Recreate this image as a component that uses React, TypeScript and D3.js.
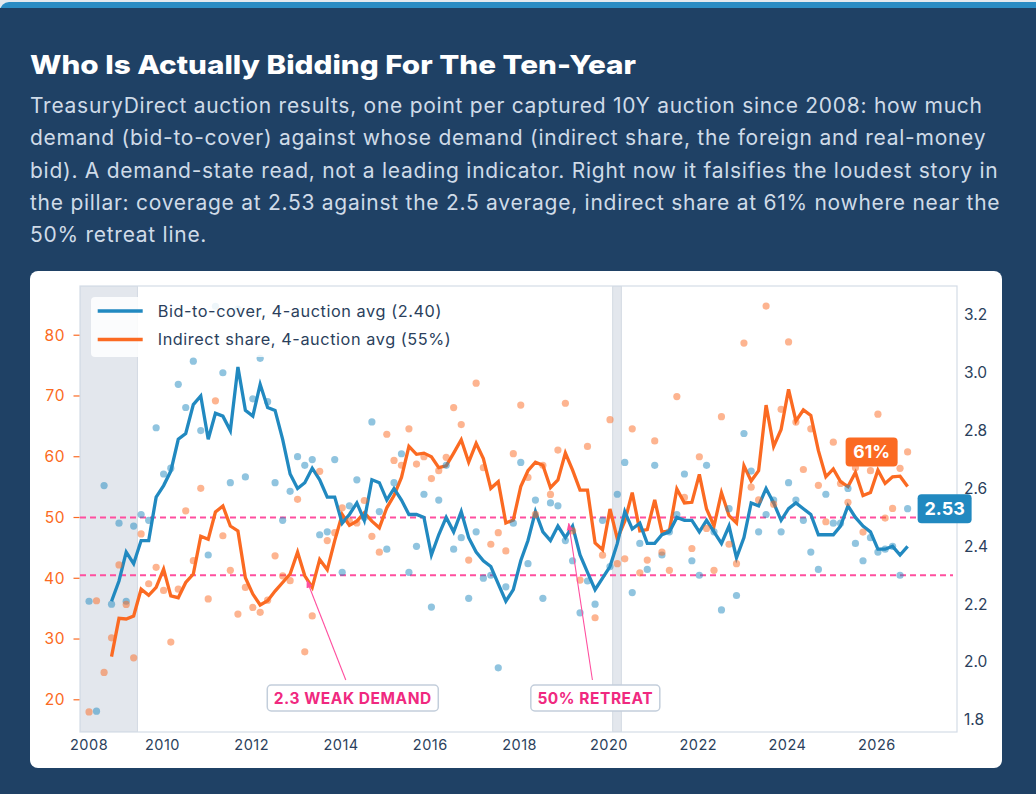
import React from 'react';
import * as d3 from 'd3';

// auction months (10Y auctions captured, one every other month)
const auctionMonths = [
  '2008-05', '2008-07', '2008-09', '2008-11',
  '2009-01', '2009-03', '2009-05', '2009-07', '2009-09', '2009-11',
  '2010-01', '2010-03', '2010-05', '2010-07', '2010-09', '2010-11',
  '2011-01', '2011-03', '2011-05', '2011-07', '2011-09', '2011-11',
  '2012-01', '2012-03', '2012-05', '2012-07', '2012-09', '2012-11',
  '2013-01', '2013-03', '2013-05', '2013-07', '2013-09', '2013-11',
  '2014-01', '2014-03', '2014-05', '2014-07', '2014-09', '2014-11',
  '2015-01', '2015-03', '2015-05', '2015-07', '2015-09', '2015-11',
  '2016-01', '2016-03', '2016-05', '2016-07', '2016-09', '2016-11',
  '2017-01', '2017-03', '2017-05', '2017-07', '2017-09', '2017-11',
  '2018-01', '2018-03', '2018-05', '2018-07', '2018-09', '2018-11',
  '2019-01', '2019-03', '2019-05', '2019-07', '2019-09', '2019-11',
  '2020-01', '2020-03', '2020-05', '2020-07', '2020-09', '2020-11',
  '2021-01', '2021-03', '2021-05', '2021-07', '2021-09', '2021-11',
  '2022-01', '2022-03', '2022-05', '2022-07', '2022-09', '2022-11',
  '2023-01', '2023-03', '2023-05', '2023-07', '2023-09', '2023-11',
  '2024-01', '2024-03', '2024-05', '2024-07', '2024-09', '2024-11',
  '2025-01', '2025-03', '2025-05', '2025-07', '2025-09', '2025-11',
  '2026-01', '2026-03', '2026-05', '2026-07', '2026-09',
];

// raw bid-to-cover per auction
const bidToCover = [
  2.21, 1.83, 2.61, 2.20,
  2.48, 2.21, 2.47, 2.51, 2.49, 2.81,
  2.65, 2.67, 2.96, 2.88, 3.04, 2.80,
  2.37, 3.23, 3.00, 2.62, 3.22, 2.64,
  2.91, 3.05, 2.90, 2.62, 2.49, 2.59,
  2.71, 2.68, 2.70, 2.44, 2.45, 2.70,
  2.31, 2.54, 2.63, 2.50, 2.83, 2.52,
  2.39, 2.62, 2.72, 2.31, 2.40, 2.58,
  2.19, 2.56, 2.68, 2.39, 2.43, 2.22,
  2.45, 2.29, 2.30, 1.98, 2.26, 2.48,
  2.69, 2.34, 2.56, 2.22, 2.55, 2.54,
  2.42, 2.35, 2.17, 2.28, 2.20, 2.49,
  2.33, 2.58, 2.69, 2.24, 2.41, 2.32,
  2.68, 2.37, 2.45, 2.51, 2.65, 2.35,
  2.30, 2.68, 2.45, 2.18, 2.53, 2.23,
  2.79, 2.66, 2.45, 2.51, 2.56, 2.45,
  2.62, 2.56, 2.49, 2.38, 2.32, 2.58,
  2.48, 2.48, 2.60, 2.41, 2.35, 2.43,
  2.38, 2.39, 2.40, 2.30, 2.53,
];

// raw indirect share (%) per auction
const indirectShare = [
  18.0, 36.3, 24.5, 30.2,
  42.2, 35.7, 26.9, 47.3, 39.1, 41.8,
  38.0, 29.5, 38.2, 51.1, 42.9, 54.8,
  36.6, 69.2, 47.0, 41.3, 34.1, 38.5,
  35.2, 34.4, 36.4, 43.7, 40.4, 39.6,
  53.0, 27.9, 33.8, 57.6, 46.2, 47.5,
  51.6, 49.4, 49.1, 52.8, 46.9, 44.3,
  63.7, 59.4, 58.6, 64.6, 58.8, 60.0,
  56.4, 57.7, 59.9, 68.1, 65.3, 43.0,
  72.1, 58.2, 45.6, 47.5, 44.5, 60.5,
  68.5, 56.6, 50.5, 58.6, 53.8, 61.1,
  68.8, 47.8, 39.7, 61.7, 33.5, 43.8,
  66.1, 42.4, 43.2, 64.6, 40.9, 43.0,
  62.6, 44.3, 41.3, 69.9, 53.3, 44.9,
  60.0, 48.2, 41.3, 66.6, 45.6, 42.4,
  78.7, 55.0, 52.9, 84.8, 52.2, 67.8,
  78.9, 65.7, 57.9, 64.6, 55.3, 49.3,
  62.4, 55.6, 52.5, 58.2, 47.6, 57.7,
  67.0, 49.9, 51.5, 58.1, 60.8,
];

// 4-auction averages as drawn (first three auctions have none)
const bidToCoverAvg = [
  null, null, null, 2.21,
  2.28, 2.38, 2.34, 2.42, 2.42, 2.57,
  2.61, 2.66, 2.77, 2.79, 2.89, 2.92,
  2.77, 2.86, 2.85, 2.80, 3.02, 2.87,
  2.85, 2.96, 2.88, 2.87, 2.77, 2.65,
  2.60, 2.62, 2.67, 2.63, 2.57, 2.57,
  2.48, 2.51, 2.55, 2.49, 2.63, 2.62,
  2.56, 2.60, 2.56, 2.51, 2.51, 2.50,
  2.37, 2.44, 2.50, 2.45, 2.52, 2.43,
  2.38, 2.35, 2.33, 2.27, 2.21, 2.25,
  2.35, 2.42, 2.52, 2.45, 2.42, 2.47,
  2.43, 2.47, 2.37, 2.31, 2.25, 2.29,
  2.33, 2.41, 2.52, 2.46, 2.48, 2.41,
  2.41, 2.44, 2.45, 2.50, 2.49, 2.49,
  2.45, 2.49, 2.45, 2.41, 2.47, 2.36,
  2.43, 2.55, 2.54, 2.60, 2.55, 2.49,
  2.53, 2.55, 2.53, 2.51, 2.44, 2.44,
  2.44, 2.47, 2.54, 2.50, 2.47, 2.45,
  2.39, 2.39, 2.40, 2.37, 2.40,
];

const indirectShareAvg = [
  null, null, null, 27.1,
  33.4, 33.3, 33.8, 38.2, 37.2, 38.5,
  41.5, 37.1, 36.8, 39.3, 40.7, 46.9,
  46.4, 50.9, 51.9, 48.6, 47.8, 40.1,
  37.4, 35.6, 36.3, 37.9, 39.3, 40.7,
  44.3, 40.4, 38.5, 43.1, 41.4, 46.2,
  50.5, 48.7, 49.4, 50.8, 49.4, 48.3,
  51.6, 53.6, 56.6, 61.7, 60.4, 60.6,
  60.0, 58.2, 58.5, 60.6, 62.8, 59.1,
  62.2, 59.7, 54.8, 55.9, 49.1, 49.6,
  55.1, 57.7, 59.1, 58.6, 54.9, 56.2,
  60.6, 57.8, 54.5, 54.5, 45.8, 44.7,
  51.4, 46.5, 49.4, 54.1, 47.8, 48.0,
  52.9, 47.6, 47.8, 54.7, 52.4, 52.5,
  57.1, 51.4, 48.6, 54.1, 50.3, 49.1,
  58.5, 56.0, 57.7, 68.5, 61.7, 64.5,
  71.1, 65.9, 67.7, 66.8, 61.0, 56.7,
  58.0, 55.9, 55.1, 57.4, 53.6, 54.1,
  57.8, 55.6, 56.7, 56.8, 55.1,
];

// recession shading
const recessions = [
  ['2007-12-01', '2009-06-10'],
  ['2020-02-01', '2020-04-12'],
];

const xDomain = ['2008-02-26', '2027-10-19'];
const xTickYears = [2008, 2010, 2012, 2014, 2016, 2018, 2020, 2022, 2024, 2026];
const shareTicks = [20, 30, 40, 50, 60, 70, 80];
const coverTicks = [1.8, 2.0, 2.2, 2.4, 2.6, 2.8, 3.0, 3.2];

const weakDemand = 2.3;
const retreatShare = 50;

const titleText = 'Who Is Actually Bidding For The Ten-Year';
const subtitleLines = [
  'TreasuryDirect auction results, one point per captured 10Y auction since 2008: how much',
  'demand (bid-to-cover) against whose demand (indirect share, the foreign and real-money',
  'bid). A demand-state read, not a leading indicator. Right now it falsifies the loudest story in',
  'the pillar: coverage at 2.53 against the 2.5 average, indirect share at 61% nowhere near the',
  '50% retreat line.',
];

const NAVY = '#1f4165';
const BLUE = '#2189c0';
const ORANGE = '#fb6a22';
const PINK = '#ff4f9f';
const INK = '#2b3f5c';
const FONT = 'Inter, "Noto Sans", sans-serif';
const SPACED = { letterSpacing: '0.035em' };

export default function App() {
  const parseDay = d3.timeParse('%Y-%m-%d');
  const dates = auctionMonths.map(m => parseDay(`${m}-10`)!);

  const left = 80, right = 957, top = 286, bottom = 732;

  const x = d3.scaleTime()
    .domain(xDomain.map(s => parseDay(s)!))
    .range([left, right]);
  const yShare = d3.scaleLinear().domain([14.7, 88.1]).range([bottom, top]);
  const yCover = d3.scaleLinear().domain([1.758, 3.3]).range([bottom, top]);

  const coverLine = d3.line<number | null>()
    .defined(v => v != null)
    .x((_, i) => x(dates[i]))
    .y(v => yCover(v as number));
  const shareLine = d3.line<number | null>()
    .defined(v => v != null)
    .x((_, i) => x(dates[i]))
    .y(v => yShare(v as number));

  const n = dates.length;
  const lastX = x(dates[n - 1]);
  const lastCover = bidToCover[n - 1];
  const lastShare = indirectShare[n - 1];
  const lastCoverAvg = bidToCoverAvg[n - 1] as number;
  const lastShareAvg = indirectShareAvg[n - 1] as number;

  // annotations: target on a threshold line, label box along the bottom
  const annots = [
    { text: '2.3 WEAK DEMAND', tx: x(parseDay('2013-03-10')!), ty: yCover(weakDemand), boxW: 171, dx: 48, sx: 41 },
    { text: '50% RETREAT', tx: x(parseDay('2019-01-30')!), ty: yShare(retreatShare), boxW: 129, dx: 27.5, sx: 24.6 },
  ];
  const boxTop = 685, boxH = 26;

  const firstX = x(dates[0]);

  return (
    <div style={{ position: 'absolute', left: 0, top: 0 }}>
      <svg width={1036} height={794} style={{ display: 'block' }}>
        <defs>
          <clipPath id="plot">
            <rect x={left} y={top} width={right - left} height={bottom - top} />
          </clipPath>
          <marker id="arrow" viewBox="0 0 10 10" refX={9} refY={5} markerWidth={7} markerHeight={7} orient="auto">
            <path d="M0,1 L10,5 L0,9 z" fill={PINK} />
          </marker>
        </defs>

        <rect x={0} y={0} width={1036} height={794} fill="#e4e9ef" />
        <rect x={0} y={2} width={1100} height={900} rx={9} fill="#2a8cc4" />
        <rect x={0} y={8} width={1100} height={900} fill={NAVY} />

        <text x={30} y={74} fill="#ffffff" fontFamily={FONT} fontWeight={800} fontSize={26}
          textLength={606} lengthAdjust="spacingAndGlyphs">{titleText}</text>
        {subtitleLines.map((line, i) => (
          <text key={i} x={30} y={113.3 + i * 32.1} fill="#cfdbe8" fontFamily={FONT} fontSize={21} style={SPACED}>{line}</text>
        ))}

        <rect x={30} y={271} width={972} height={497} rx={8} fill="#ffffff" />

        <g clipPath="url(#plot)">
          {recessions.map(([a, b], i) => {
            const x0 = Math.max(left, x(parseDay(a)!));
            const x1 = x(parseDay(b)!);
            return <rect key={i} x={x0} y={top} width={x1 - x0} height={bottom - top}
              fill="#e3e7ed" stroke="#d3dae3" strokeWidth={1} />;
          })}
        </g>

        <rect x={left} y={top} width={right - left} height={bottom - top} fill="none" stroke="#d4dce7" strokeWidth={1.2} />

        {/* threshold lines */}
        <line x1={left} x2={right - 4} y1={yShare(retreatShare)} y2={yShare(retreatShare)}
          stroke={PINK} strokeWidth={2} strokeDasharray="6 4" />
        <line x1={left} x2={right - 4} y1={yCover(weakDemand)} y2={yCover(weakDemand)}
          stroke={PINK} strokeWidth={2} strokeDasharray="6 4" />

        <g clipPath="url(#plot)">
          <path d={shareLine(indirectShareAvg) || ''} fill="none" stroke={ORANGE} strokeWidth={3.3} strokeLinejoin="miter" />
          <path d={coverLine(bidToCoverAvg) || ''} fill="none" stroke={BLUE} strokeWidth={3.3} strokeLinejoin="miter" />
          {bidToCover.map((v, i) => (
            <circle key={'b' + i} cx={x(dates[i])} cy={yCover(v)} r={3.6} fill={BLUE} fillOpacity={0.5} />
          ))}
          {indirectShare.map((v, i) => (
            <circle key={'o' + i} cx={x(dates[i])} cy={yShare(v)} r={3.6} fill={ORANGE} fillOpacity={0.5} />
          ))}
        </g>

        {/* left axis */}
        {shareTicks.map(t => (
          <g key={t} transform={`translate(${left},${yShare(t)})`}>
            <line x1={-6.5} x2={-0.5} stroke={ORANGE} strokeWidth={1.2} />
            <text x={-15} dy="0.35em" textAnchor="end" fill={ORANGE} fontFamily={FONT} fontSize={15.5} style={SPACED}>{t}</text>
          </g>
        ))}
        {/* right axis */}
        {coverTicks.map(t => (
          <text key={t} x={964} y={yCover(t)} dy="0.35em" fill={INK} fontFamily={FONT} fontSize={15.5}>{t.toFixed(1)}</text>
        ))}
        {/* x axis */}
        {xTickYears.map(yr => (
          <text key={yr} x={Math.max(firstX, x(new Date(yr, 0, 1)))} y={745} dy="0.35em" textAnchor="middle"
            fill={INK} fontFamily={FONT} fontSize={14.5} style={SPACED}>{yr}</text>
        ))}

        {/* legend */}
        <rect x={91} y={297} width={362} height={60} rx={4} fill="#ffffff" fillOpacity={0.85} />
        <line x1={97.7} x2={142.7} y1={311} y2={311} stroke={BLUE} strokeWidth={3.5} />
        <text x={157.7} y={311} dy="0.35em" fill={INK} fontFamily={FONT} fontSize={16.3} style={SPACED}>
          {`Bid-to-cover, 4-auction avg (${lastCoverAvg.toFixed(2)})`}
        </text>
        <line x1={97.7} x2={142.7} y1={339.5} y2={339.5} stroke={ORANGE} strokeWidth={3.5} />
        <text x={157.7} y={339.5} dy="0.35em" fill={INK} fontFamily={FONT} fontSize={16.3} style={SPACED}>
          {`Indirect share, 4-auction avg (${Math.round(lastShareAvg)}%)`}
        </text>

        {/* annotations */}
        {annots.map((a, i) => {
          const x0 = a.tx + a.sx, y0 = 680;
          const len = Math.hypot(a.tx - x0, a.ty - y0);
          const shrink = 6;
          const x1 = a.tx + (x0 - a.tx) * shrink / len;
          const y1 = a.ty + (y0 - a.ty) * shrink / len;
          const cx = a.tx + a.dx;
          return (
            <g key={i}>
              <line x1={x0} y1={y0} x2={x1} y2={y1} stroke={PINK} strokeWidth={1.1} markerEnd="url(#arrow)" />
              <rect x={cx - a.boxW / 2} y={boxTop} width={a.boxW} height={boxH} rx={4}
                fill="#ffffff" stroke="#c3cedb" strokeWidth={1.5} />
              <text x={cx} y={boxTop + boxH / 2} dy="0.36em" textAnchor="middle" fill="#f0297f"
                fontFamily={FONT} fontWeight={700} fontSize={15.5} style={SPACED}>{a.text}</text>
            </g>
          );
        })}

        {/* latest value tags */}
        <g>
          <rect x={lastX - 10 - 52} y={yShare(lastShare) - 14.5} width={52} height={29} rx={4} fill={ORANGE} />
          <text x={lastX - 10 - 26} y={yShare(lastShare)} dy="0.36em" textAnchor="middle" fill="#ffffff"
            fontFamily={FONT} fontWeight={700} fontSize={17.5}>{`${Math.round(lastShare)}%`}</text>
          <rect x={lastX + 10} y={yCover(lastCover) - 14.5} width={54} height={29} rx={4} fill={BLUE} />
          <text x={lastX + 10 + 27} y={yCover(lastCover)} dy="0.36em" textAnchor="middle" fill="#ffffff"
            fontFamily={FONT} fontWeight={700} fontSize={18}>{lastCover.toFixed(2)}</text>
        </g>
      </svg>
    </div>
  );
}
